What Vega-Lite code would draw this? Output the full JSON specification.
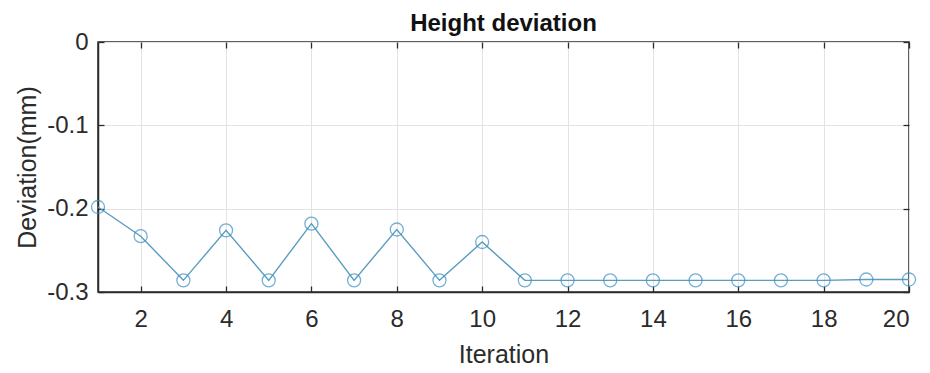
{
  "$schema": "https://vega.github.io/schema/vega-lite/v6.json",
  "autosize": "none",
  "width": 811,
  "height": 250,
  "padding": {"left": 98, "top": 42, "right": 21, "bottom": 81},
  "background": "white",
  "config": {
    "font": "Liberation Sans",
    "view": {"stroke": "#2b2b2b", "strokeWidth": 1.5},
    "axis": {
      "labelFont": "Liberation Sans",
      "titleFont": "Liberation Sans",
      "labelFontSize": 24,
      "titleFontSize": 25,
      "labelColor": "#2b2b2b",
      "titleColor": "#2b2b2b",
      "titleFontWeight": "normal",
      "gridColor": "#e3e3e3",
      "gridWidth": 1,
      "domainColor": "#2b2b2b",
      "domainWidth": 1.5,
      "tickColor": "#2b2b2b",
      "tickSize": -6,
      "tickWidth": 1.3
    }
  },
  "title": {
    "text": "Height deviation",
    "font": "Liberation Sans",
    "fontSize": 24,
    "fontWeight": "bold",
    "color": "#111111",
    "baseline": "alphabetic",
    "offset": -25
  },
  "data": {
    "values": [
      {"iteration": 1, "deviation": -0.198},
      {"iteration": 2, "deviation": -0.233},
      {"iteration": 3, "deviation": -0.286},
      {"iteration": 4, "deviation": -0.226},
      {"iteration": 5, "deviation": -0.286},
      {"iteration": 6, "deviation": -0.218},
      {"iteration": 7, "deviation": -0.286},
      {"iteration": 8, "deviation": -0.225},
      {"iteration": 9, "deviation": -0.286},
      {"iteration": 10, "deviation": -0.240},
      {"iteration": 11, "deviation": -0.286},
      {"iteration": 12, "deviation": -0.286},
      {"iteration": 13, "deviation": -0.286},
      {"iteration": 14, "deviation": -0.286},
      {"iteration": 15, "deviation": -0.286},
      {"iteration": 16, "deviation": -0.286},
      {"iteration": 17, "deviation": -0.286},
      {"iteration": 18, "deviation": -0.286},
      {"iteration": 19, "deviation": -0.285},
      {"iteration": 20, "deviation": -0.285}
    ]
  },
  "resolve": {"axis": {"x": "independent", "y": "independent"}},
  "layer": [
    {
      "mark": {"type": "line", "color": "#5b9cbf", "strokeWidth": 1.4},
      "encoding": {
        "x": {
          "field": "iteration",
          "type": "quantitative",
          "scale": {"domain": [1, 20], "nice": false, "zero": false},
          "axis": {
            "title": "Iteration",
            "values": [2, 4, 6, 8, 10, 12, 14, 16, 18, 20],
            "labelPadding": 21,
            "titlePadding": 11
          }
        },
        "y": {
          "field": "deviation",
          "type": "quantitative",
          "scale": {"domain": [-0.3, 0], "nice": false, "zero": false},
          "axis": {
            "title": "Deviation(mm)",
            "values": [-0.3, -0.2, -0.1, 0],
            "labelExpr": "replace(format(datum.value, '~g'), '−', '-')",
            "labelPadding": 16,
            "titlePadding": 6
          }
        }
      }
    },
    {
      "mark": {"type": "point", "shape": "circle", "filled": false, "size": 170, "color": "#3a8fc2", "strokeWidth": 1.3},
      "encoding": {
        "x": {
          "field": "iteration",
          "type": "quantitative",
          "axis": {
            "orient": "top",
            "title": null,
            "labels": false,
            "grid": false,
            "domain": false,
            "values": [2, 4, 6, 8, 10, 12, 14, 16, 18, 20]
          }
        },
        "y": {
          "field": "deviation",
          "type": "quantitative",
          "axis": {
            "orient": "right",
            "title": null,
            "labels": false,
            "grid": false,
            "domain": false,
            "values": [-0.3, -0.2, -0.1, 0]
          }
        }
      }
    }
  ]
}
